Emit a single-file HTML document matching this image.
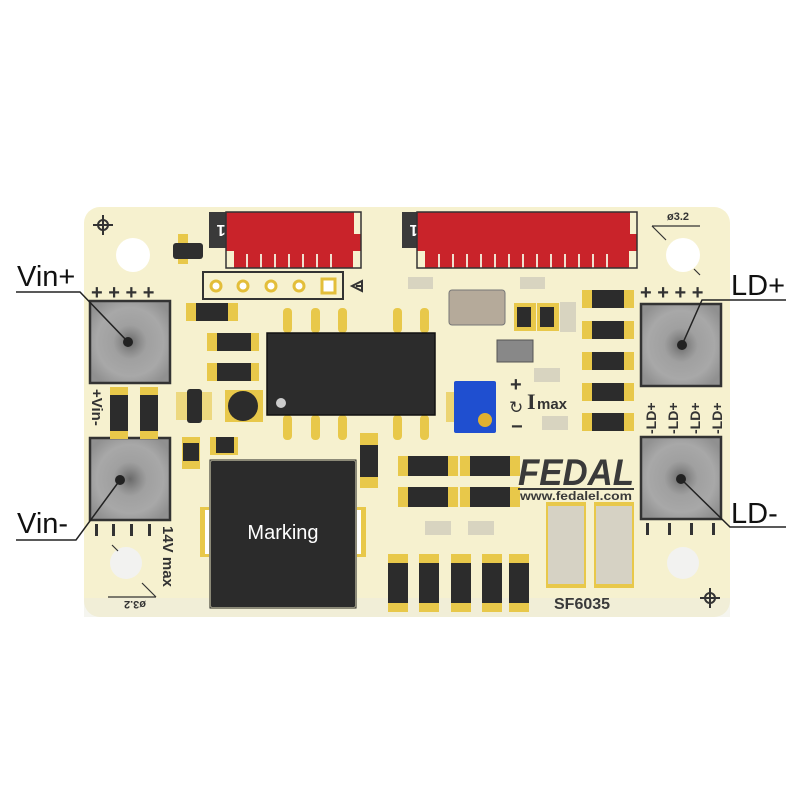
<!DOCTYPE html>
<html><head><style>
html,body{margin:0;padding:0;background:#fff;}
svg{display:block;font-family:"Liberation Sans",sans-serif;}
</style></head><body>
<svg width="800" height="800" viewBox="0 0 800 800" xmlns="http://www.w3.org/2000/svg">
<defs>
<radialGradient id="pad" cx="50%" cy="50%" r="60%">
<stop offset="0" stop-color="#6a6a6a"/><stop offset="0.22" stop-color="#8e8e8e"/><stop offset="0.35" stop-color="#a0a0a0"/><stop offset="0.7" stop-color="#a8a8a8"/><stop offset="1" stop-color="#909090"/>
</radialGradient>
</defs>
<rect x="84" y="207" width="646" height="410" rx="16" fill="#f6f1cf"/>
<rect x="84" y="598" width="646" height="19" fill="#ecebe0" opacity="0.5"/>
<circle cx="133" cy="255" r="17" fill="#fff"/>
<circle cx="683" cy="255" r="17" fill="#fff"/>
<circle cx="126" cy="563" r="16" fill="#f2f2f0"/>
<circle cx="683" cy="563" r="16" fill="#f2f2f0"/>
<g stroke="#333" stroke-width="2" fill="none">
<circle cx="103" cy="225" r="5"/><path d="M103 215v20M93 225h20"/>
<circle cx="710" cy="598" r="5"/><path d="M710 588v20M700 598h20"/>
</g>
<text x="667" y="220" font-size="11" font-weight="bold" fill="#333">ø3.2</text>
<path d="M652 226h48M652 226l14 14" stroke="#333" stroke-width="1.2" fill="none"/>
<text x="146" y="609" font-size="11" font-weight="bold" fill="#333" transform="rotate(180 146 605)">ø3.2</text>
<path d="M108 597h48M156 597l-14 -14" stroke="#333" stroke-width="1.2" fill="none"/>
<path d="M700 275l-6-6M112 545l6 6" stroke="#333" stroke-width="1.2"/>
<rect x="209" y="212" width="24" height="36" fill="#3a3a3a"/>
<text x="221" y="237" font-size="16" font-weight="bold" fill="#fff" text-anchor="middle" transform="rotate(180 221 231)">1</text>
<rect x="226" y="212" width="135" height="56" fill="#c9232a"/>
<rect x="354" y="212" width="7" height="22" fill="#f6f1cf"/>
<rect x="226" y="251" width="8" height="17" fill="#f6f1cf"/>
<rect x="353" y="251" width="8" height="17" fill="#f6f1cf"/>
<g fill="#f0e0d0"><rect x="246" y="254" width="2" height="14"/><rect x="260" y="254" width="2" height="14"/><rect x="274" y="254" width="2" height="14"/><rect x="288" y="254" width="2" height="14"/><rect x="302" y="254" width="2" height="14"/><rect x="316" y="254" width="2" height="14"/><rect x="330" y="254" width="2" height="14"/></g>
<rect x="226" y="212" width="135" height="56" fill="none" stroke="#333" stroke-width="1.5"/>
<rect x="402" y="212" width="24" height="36" fill="#3a3a3a"/>
<text x="414" y="237" font-size="16" font-weight="bold" fill="#fff" text-anchor="middle" transform="rotate(180 414 231)">1</text>
<rect x="417" y="212" width="220" height="56" fill="#c9232a"/>
<rect x="630" y="212" width="7" height="22" fill="#f6f1cf"/>
<rect x="417" y="251" width="8" height="17" fill="#f6f1cf"/>
<rect x="629" y="251" width="8" height="17" fill="#f6f1cf"/>
<g fill="#f0e0d0"><rect x="438" y="254" width="2" height="14"/><rect x="452" y="254" width="2" height="14"/><rect x="466" y="254" width="2" height="14"/><rect x="480" y="254" width="2" height="14"/><rect x="494" y="254" width="2" height="14"/><rect x="508" y="254" width="2" height="14"/><rect x="522" y="254" width="2" height="14"/><rect x="536" y="254" width="2" height="14"/><rect x="550" y="254" width="2" height="14"/><rect x="564" y="254" width="2" height="14"/><rect x="578" y="254" width="2" height="14"/><rect x="592" y="254" width="2" height="14"/><rect x="606" y="254" width="2" height="14"/></g>
<rect x="417" y="212" width="220" height="56" fill="none" stroke="#333" stroke-width="1.5"/>
<rect x="178" y="234" width="10" height="30" fill="#e8c84a"/>
<rect x="173" y="243" width="30" height="16" rx="3" fill="#2f2f2f"/>
<rect x="203" y="272" width="140" height="27" fill="none" stroke="#333" stroke-width="2"/>
<g fill="#fff" stroke="#e3be3a" stroke-width="3">
<circle cx="216" cy="286" r="5"/><circle cx="243" cy="286" r="5"/><circle cx="271" cy="286" r="5"/><circle cx="299" cy="286" r="5"/>
<rect x="322" y="279" width="13" height="14"/></g>
<path d="M362 281l-10 5l10 5zM356 286h6" stroke="#333" stroke-width="2" fill="none"/>
<g font-size="20" font-weight="bold" fill="#333"><text x="91" y="299">+ + + +</text></g>
<rect x="90" y="301" width="80" height="82" fill="url(#pad)" stroke="#333" stroke-width="2.5"/>
<circle cx="128" cy="342" r="5" fill="#222"/>
<rect x="90" y="438" width="80" height="82" fill="url(#pad)" stroke="#333" stroke-width="2.5"/>
<circle cx="120" cy="480" r="5" fill="#222"/>
<g fill="#333"><rect x="95" y="524" width="3" height="12"/><rect x="112" y="524" width="3" height="12"/><rect x="130" y="524" width="3" height="12"/><rect x="148" y="524" width="3" height="12"/></g>
<text x="92" y="389" font-size="15" font-weight="bold" fill="#333" transform="rotate(90 92 389)">+Vin-</text>
<text x="163" y="526" font-size="15" font-weight="bold" fill="#333" transform="rotate(90 163 526)">14V max</text>
<text x="640" y="299" font-size="20" font-weight="bold" fill="#333">+ + + +</text>
<rect x="641" y="304" width="80" height="82" fill="url(#pad)" stroke="#333" stroke-width="2.5"/>
<circle cx="682" cy="345" r="5" fill="#222"/>
<rect x="641" y="437" width="80" height="82" fill="url(#pad)" stroke="#333" stroke-width="2.5"/>
<circle cx="681" cy="479" r="5" fill="#222"/>
<g font-size="14" font-weight="bold" fill="#333">
<text x="656" y="434" transform="rotate(-90 656 434)">-LD+</text>
<text x="678" y="434" transform="rotate(-90 678 434)">-LD+</text>
<text x="700" y="434" transform="rotate(-90 700 434)">-LD+</text>
<text x="722" y="434" transform="rotate(-90 722 434)">-LD+</text></g>
<g fill="#333"><rect x="646" y="523" width="3" height="12"/><rect x="668" y="523" width="3" height="12"/><rect x="690" y="523" width="3" height="12"/><rect x="712" y="523" width="3" height="12"/></g>
<g font-size="29" fill="#111">
<text x="17" y="286">Vin+</text><text x="17" y="533">Vin-</text>
<text x="731" y="295">LD+</text><text x="731" y="523">LD-</text></g>
<g stroke="#222" stroke-width="1.5" fill="none">
<path d="M16 292h64l48 50"/><path d="M16 540h60l44 -60"/>
<path d="M786 300h-84l-20 45"/><path d="M786 527h-56l-49 -48"/></g>
<g fill="#e8c84a"><rect x="283" y="308" width="9" height="25" rx="4"/><rect x="311" y="308" width="9" height="25" rx="4"/><rect x="338" y="308" width="9" height="25" rx="4"/><rect x="393" y="308" width="9" height="25" rx="4"/><rect x="420" y="308" width="9" height="25" rx="4"/>
<rect x="283" y="415" width="9" height="25" rx="4"/><rect x="311" y="415" width="9" height="25" rx="4"/><rect x="338" y="415" width="9" height="25" rx="4"/><rect x="393" y="415" width="9" height="25" rx="4"/><rect x="420" y="415" width="9" height="25" rx="4"/></g>
<rect x="267" y="333" width="168" height="82" fill="#2c2c2c" stroke="#111" stroke-width="1.5"/>
<circle cx="281" cy="403" r="5" fill="#ccc"/>
<g>
<rect x="186" y="303" width="52" height="18" fill="#e8c84a"/><rect x="196" y="303" width="32" height="18" fill="#2c2c2c"/>
<rect x="207" y="333" width="52" height="18" fill="#e8c84a"/><rect x="217" y="333" width="34" height="18" fill="#2c2c2c"/>
<rect x="207" y="363" width="52" height="18" fill="#e8c84a"/><rect x="217" y="363" width="34" height="18" fill="#2c2c2c"/>
<rect x="110" y="387" width="18" height="52" fill="#e8c84a"/><rect x="110" y="395" width="18" height="36" fill="#2c2c2c"/>
<rect x="140" y="387" width="18" height="52" fill="#e8c84a"/><rect x="140" y="395" width="18" height="36" fill="#2c2c2c"/>
<rect x="176" y="392" width="36" height="28" fill="#e8c84a" opacity="0.6"/><rect x="187" y="389" width="15" height="34" rx="3" fill="#2c2c2c"/>
<rect x="225" y="390" width="38" height="32" fill="#e8c84a"/><circle cx="243" cy="406" r="15" fill="#2c2c2c"/>
<rect x="182" y="437" width="18" height="32" fill="#e8c84a"/><rect x="183" y="443" width="16" height="18" fill="#2c2c2c"/>
<rect x="210" y="437" width="28" height="18" fill="#e8c84a"/><rect x="216" y="437" width="18" height="16" fill="#2c2c2c"/>
<rect x="360" y="433" width="18" height="55" fill="#e8c84a"/><rect x="360" y="445" width="18" height="32" fill="#2c2c2c"/>
</g>
<rect x="200" y="507" width="166" height="50" fill="#e8c84a"/>
<rect x="205" y="510" width="156" height="44" fill="#fff"/>
<rect x="210" y="460" width="146" height="148" rx="2" fill="#2b2b2b" stroke="#f6f1cf" stroke-width="2"/>
<rect x="210" y="460" width="146" height="148" fill="none" stroke="#222" stroke-width="1"/>
<text x="283" y="539" font-size="20" fill="#fff" text-anchor="middle">Marking</text>
<rect x="449" y="290" width="56" height="35" rx="3" fill="#b5aa9a" stroke="#777"/>
<rect x="408" y="277" width="25" height="12" fill="#d8d4c0"/><rect x="520" y="277" width="25" height="12" fill="#d8d4c0"/>
<rect x="514" y="303" width="22" height="28" fill="#e8c84a"/><rect x="517" y="307" width="14" height="20" fill="#2c2c2c"/>
<rect x="537" y="303" width="22" height="28" fill="#e8c84a"/><rect x="540" y="307" width="14" height="20" fill="#2c2c2c"/>
<rect x="560" y="302" width="16" height="30" fill="#d8d4c0"/>
<rect x="497" y="340" width="36" height="22" fill="#888" stroke="#555"/>
<rect x="534" y="368" width="26" height="14" fill="#d8d4c0"/><rect x="542" y="416" width="26" height="14" fill="#d8d4c0"/>
<g>
<rect x="582" y="290" width="52" height="18" fill="#e8c84a"/><rect x="592" y="290" width="32" height="18" fill="#2c2c2c"/>
<rect x="582" y="321" width="52" height="18" fill="#e8c84a"/><rect x="592" y="321" width="32" height="18" fill="#2c2c2c"/>
<rect x="582" y="352" width="52" height="18" fill="#e8c84a"/><rect x="592" y="352" width="32" height="18" fill="#2c2c2c"/>
<rect x="582" y="383" width="52" height="18" fill="#e8c84a"/><rect x="592" y="383" width="32" height="18" fill="#2c2c2c"/>
<rect x="582" y="413" width="52" height="18" fill="#e8c84a"/><rect x="592" y="413" width="32" height="18" fill="#2c2c2c"/>
</g>
<rect x="446" y="392" width="10" height="30" fill="#e8c84a" opacity="0.7"/>
<rect x="454" y="381" width="42" height="52" rx="2" fill="#1f4fd0"/>
<circle cx="485" cy="420" r="7" fill="#e0b030"/>
<text x="510" y="391" font-size="20" font-weight="bold" fill="#333">+</text>
<text x="511" y="433" font-size="20" font-weight="bold" fill="#333">−</text>
<text x="509" y="413" font-size="17" fill="#333">↻</text>
<text x="527" y="409" font-size="22" font-family="Liberation Serif" font-weight="bold" fill="#333">I</text>
<text x="537" y="409" font-size="15" font-weight="bold" fill="#333">max</text>
<g>
<rect x="398" y="456" width="60" height="20" fill="#e8c84a"/><rect x="408" y="456" width="40" height="20" fill="#2c2c2c"/>
<rect x="460" y="456" width="60" height="20" fill="#e8c84a"/><rect x="470" y="456" width="40" height="20" fill="#2c2c2c"/>
<rect x="398" y="487" width="60" height="20" fill="#e8c84a"/><rect x="408" y="487" width="40" height="20" fill="#2c2c2c"/>
<rect x="460" y="487" width="60" height="20" fill="#e8c84a"/><rect x="470" y="487" width="40" height="20" fill="#2c2c2c"/>
<rect x="425" y="521" width="26" height="14" fill="#d8d4c0"/><rect x="468" y="521" width="26" height="14" fill="#d8d4c0"/>
<rect x="388" y="554" width="20" height="58" fill="#e8c84a"/><rect x="388" y="563" width="20" height="40" fill="#2c2c2c"/>
<rect x="419" y="554" width="20" height="58" fill="#e8c84a"/><rect x="419" y="563" width="20" height="40" fill="#2c2c2c"/>
<rect x="451" y="554" width="20" height="58" fill="#e8c84a"/><rect x="451" y="563" width="20" height="40" fill="#2c2c2c"/>
<rect x="482" y="554" width="20" height="58" fill="#e8c84a"/><rect x="482" y="563" width="20" height="40" fill="#2c2c2c"/>
<rect x="509" y="554" width="20" height="58" fill="#e8c84a"/><rect x="509" y="563" width="20" height="40" fill="#2c2c2c"/>
<rect x="546" y="502" width="40" height="86" fill="#e8c84a"/><rect x="548" y="506" width="36" height="78" fill="#d6d2c4"/>
<rect x="594" y="502" width="40" height="86" fill="#e8c84a"/><rect x="596" y="506" width="36" height="78" fill="#d6d2c4"/>
</g>
<text x="518" y="485" font-size="37" font-weight="bold" font-style="italic" fill="#3a3a3a" textLength="116" lengthAdjust="spacingAndGlyphs">FEDAL</text>
<rect x="518" y="488" width="116" height="2" fill="#3a3a3a"/>
<text x="520" y="500" font-size="11.5" font-weight="bold" fill="#3a3a3a" textLength="112" lengthAdjust="spacingAndGlyphs">www.fedalel.com</text>
<text x="554" y="609" font-size="16" font-weight="bold" fill="#3a3a3a">SF6035</text>
</svg>
</body></html>
